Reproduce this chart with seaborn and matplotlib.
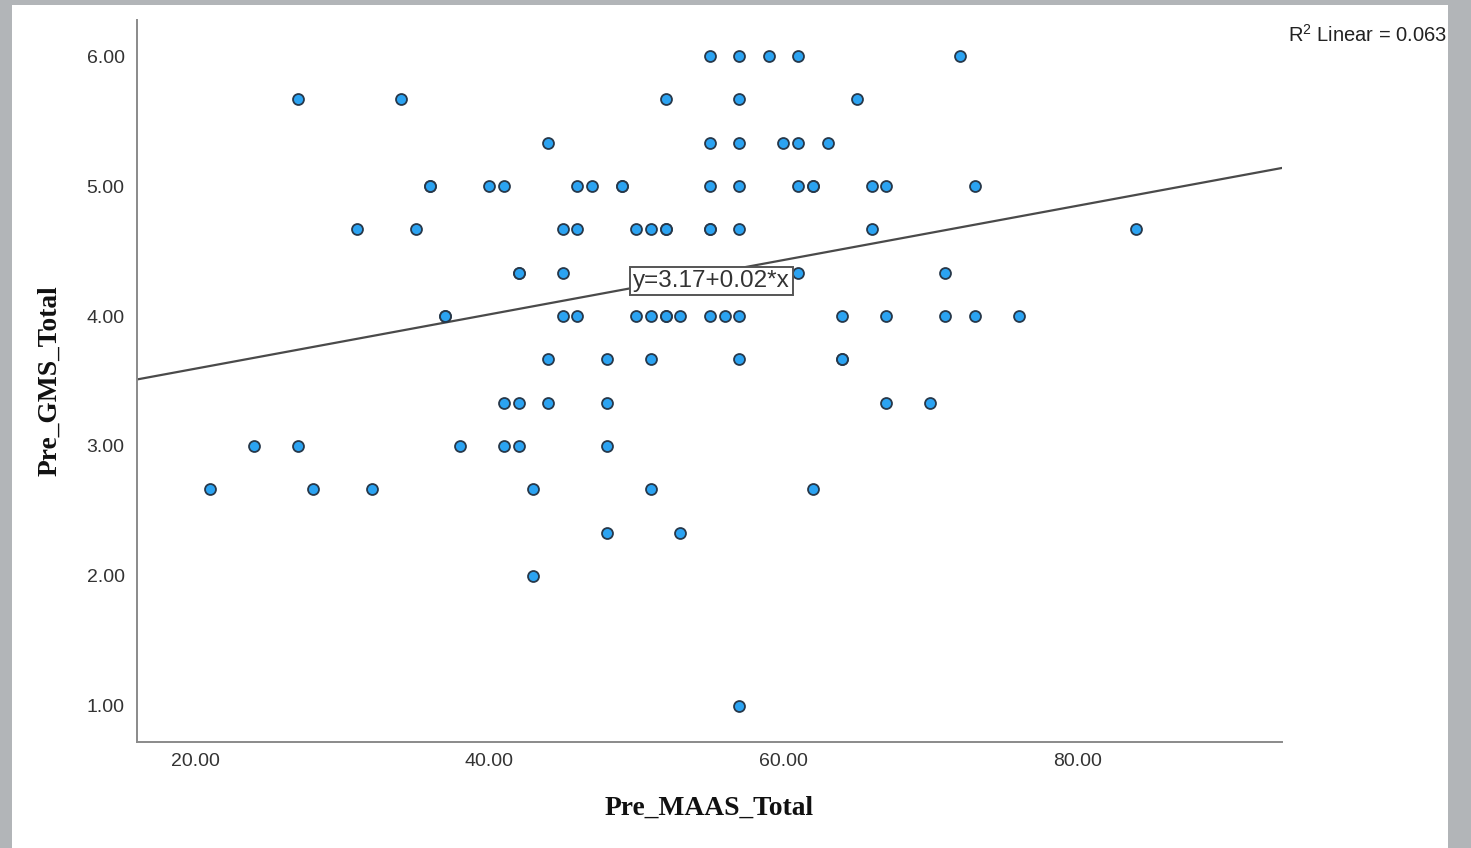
import numpy as np
import pandas as pd
import matplotlib
matplotlib.use("Agg")
import matplotlib.pyplot as plt
import seaborn as sns
from matplotlib.patches import Rectangle

# Pre_MAAS_Total (x) and Pre_GMS_Total (y)
maas = [55, 57, 59, 61, 72,
        27, 34, 52, 57, 65,
        44, 55, 57, 60, 61, 63,
        36, 36, 40, 41, 46, 47, 49, 49, 55, 57, 61, 62, 62, 66, 67, 73,
        31, 35, 45, 46, 50, 51, 52, 52, 55, 55, 57, 66, 84,
        42, 42, 45, 61, 71,
        37, 37, 45, 46, 50, 51, 52, 52, 53, 55, 56, 57, 64, 67, 71, 73, 76,
        44, 48, 51, 57, 64, 64,
        41, 42, 44, 48, 67, 70,
        24, 27, 38, 41, 42, 48,
        21, 28, 32, 43, 51, 62,
        48, 53,
        43,
        57]
gms = [6.00] * 5 + [5.67] * 5 + [5.33] * 6 + [5.00] * 16 + [4.67] * 13 + \
      [4.33] * 5 + [4.00] * 17 + [3.67] * 6 + [3.33] * 6 + [3.00] * 6 + \
      [2.67] * 6 + [2.33] * 2 + [2.00] * 1 + [1.00] * 1

x_ticks = [20, 40, 60, 80]
y_ticks = [1, 2, 3, 4, 5, 6]
fit_label = "y=3.17+0.02*x"
r2_label = r"R$^2$ Linear = 0.063"

df = pd.DataFrame({"Pre_MAAS_Total": maas, "Pre_GMS_Total": gms})

sns.set_style("white")
plt.rcParams["font.family"] = ["Liberation Sans", "DejaVu Sans"]
plt.rcParams["mathtext.fontset"] = "custom"
plt.rcParams["mathtext.rm"] = "Liberation Sans"

fig = plt.figure(figsize=(14.71, 8.48), dpi=100, facecolor="#b2b5b8")
# white panel of the output window
fig.patches.append(Rectangle((12 / 1471, 0), 1436 / 1471, 843 / 848,
                             transform=fig.transFigure, facecolor="white",
                             edgecolor="none", zorder=-5))
ax = fig.add_axes([137 / 1471, 106 / 848, 1145 / 1471, 722 / 848])
ax.set_facecolor("white")
ax.set_xlim(16.05, 93.9)
ax.set_ylim(0.72, 6.28)

sns.regplot(data=df, x="Pre_MAAS_Total", y="Pre_GMS_Total", ax=ax,
            scatter=False, ci=None, truncate=False, color="#4a4a4a",
            line_kws={"lw": 1.6, "zorder": 1})
sns.scatterplot(data=df, x="Pre_MAAS_Total", y="Pre_GMS_Total", ax=ax,
                s=62, color="#2ba3f2", edgecolor="#27384a", linewidth=1.3,
                zorder=3)

ax.set_xticks(x_ticks)
ax.set_xticklabels([f"{v:.2f}" for v in x_ticks])
ax.set_yticks(y_ticks)
ax.set_yticklabels([f"{v:.2f}" for v in y_ticks])
ax.tick_params(axis="both", length=0, labelsize=14, colors="#333333")
ax.tick_params(axis="x", pad=8)
ax.tick_params(axis="y", pad=9)

for side in ["top", "right"]:
    ax.spines[side].set_visible(False)
for side in ["left", "bottom"]:
    ax.spines[side].set_color("#8a8a8a")
    ax.spines[side].set_linewidth(1.4)

ax.set_xlabel("Pre_MAAS_Total", family="Liberation Serif", weight="bold",
              fontsize=19.8, color="#111111")
ax.set_ylabel("Pre_GMS_Total", family="Liberation Serif", weight="bold",
              fontsize=19.8, color="#111111")
ax.xaxis.set_label_coords(0.5, -0.092)
ax.xaxis.label.set_va("center")
ax.yaxis.set_label_coords(-0.076, 0.5)
ax.yaxis.label.set_va("center")

ax.text(55.1, 4.27, fit_label, ha="center", va="center", fontsize=17.5,
        color="#333333", zorder=4,
        bbox=dict(boxstyle="square,pad=0.12", facecolor="white",
                  edgecolor="#555555", linewidth=1.4))
fig.text(1447 / 1471, 1 - 35 / 848, r2_label, ha="right", va="center",
         fontsize=14.5, color="#222222")

plt.savefig("out.png", dpi=100, facecolor=fig.get_facecolor())
